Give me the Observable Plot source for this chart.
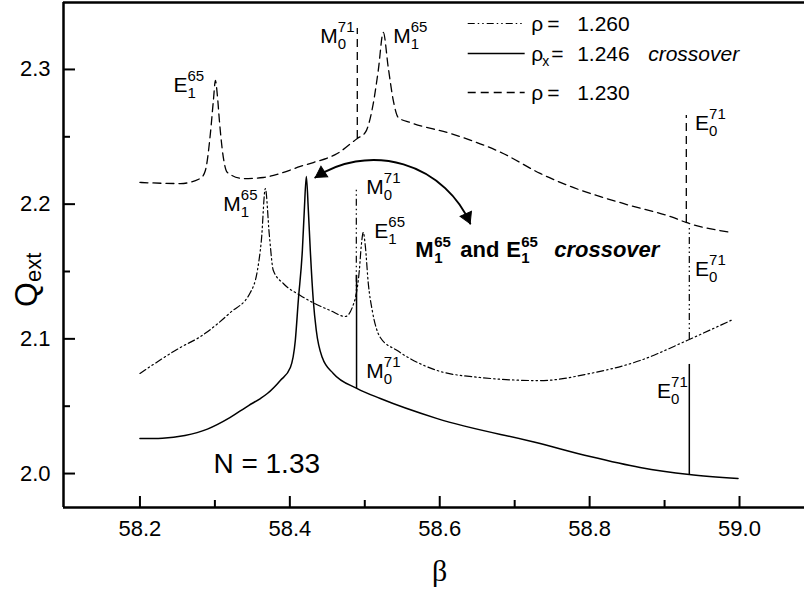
<!DOCTYPE html>
<html>
<head>
<meta charset="utf-8">
<script src="https://cdn.jsdelivr.net/npm/d3@7"></script>
<script src="https://cdn.jsdelivr.net/npm/@observablehq/plot@0.6"></script>
<style>
  html, body { margin: 0; padding: 0; background: #fff; }
  #chart svg { display: block; }
</style>
</head>
<body>
<div id="chart"></div>
<script>
// ---------- DATA ----------
// rho = 1.230 (dashed)
const betaDashed = [58.2, 58.254, 58.2807, 58.2873, 58.294, 58.298, 58.3007, 58.3033, 58.306, 58.31, 58.3167, 58.338, 58.3647, 58.3873, 58.414, 58.4313, 58.4633, 58.49, 58.5007, 58.5113, 58.518, 58.5247, 58.5313, 58.538, 58.5447, 58.5607, 58.614, 58.6847, 58.734, 58.778, 58.8447, 58.9113, 58.9287, 58.99];
const qDashed    = [2.2161, 2.2153, 2.2191, 2.225, 2.2525, 2.277, 2.2918, 2.2807, 2.2621, 2.2398, 2.2235, 2.219, 2.2198, 2.2228, 2.228, 2.2309, 2.2376, 2.2488, 2.2532, 2.2747, 2.2993, 2.3275, 2.3015, 2.277, 2.2643, 2.2606, 2.2525, 2.2376, 2.2228, 2.2124, 2.2005, 2.1901, 2.1864, 2.179];

// rho = 1.260 (dash-dot-dot)
const betaDashDot = [58.2, 58.254, 58.2807, 58.3207, 58.3473, 58.3567, 58.362, 58.3673, 58.3727, 58.378, 58.3913, 58.414, 58.454, 58.474, 58.4833, 58.4927, 58.4953, 58.498, 58.5007, 58.5047, 58.51, 58.5207, 58.5433, 58.574, 58.5967, 58.654, 58.734, 58.8007, 58.8673, 58.93, 58.9913];
const qDashDot    = [2.0743, 2.0936, 2.1017, 2.1196, 2.1344, 2.1507, 2.173, 2.2116, 2.1767, 2.1507, 2.1411, 2.1322, 2.121, 2.1166, 2.1233, 2.1507, 2.169, 2.179, 2.169, 2.141, 2.121, 2.101, 2.0913, 2.0815, 2.0765, 2.0713, 2.069, 2.0743, 2.0839, 2.0988, 2.1144];

// rho_x = 1.246 crossover (solid)
const betaSolid = [58.2, 58.23, 58.26, 58.29, 58.32, 58.345, 58.3607, 58.37, 58.3873, 58.4007, 58.4073, 58.4113, 58.4167, 58.4193, 58.422, 58.4247, 58.4273, 58.4313, 58.4353, 58.4433, 58.458, 58.49, 58.5207, 58.5967, 58.734, 58.8007, 58.8673, 58.933, 58.998];
const qSolid    = [2.026, 2.0263, 2.0283, 2.0330, 2.0415, 2.0505, 2.0557, 2.0594, 2.0691, 2.0787, 2.0988, 2.1285, 2.1656, 2.1953, 2.2205, 2.1953, 2.1656, 2.1285, 2.1062, 2.0861, 2.0743, 2.0631, 2.0557, 2.0408, 2.0223, 2.0126, 2.0045, 1.9993, 1.9963];

// narrow resonance spikes (M0^71 and E0^71)
const spikeBetaDashed = [58.49, 58.929];
const spikeBaseDashed = [2.2488, 2.1864];
const spikeTopDashed  = [2.3304, 2.2658];
const spikeBetaDashDot = [58.4887, 58.933];
const spikeBaseDashDot = [2.128, 2.0995];
const spikeTopDashDot  = [2.2116, 2.1827];
const spikeBetaSolid = [58.489, 58.933];
const spikeBaseSolid = [2.0631, 1.9993];
const spikeTopSolid  = [2.147, 2.081];

// resonance labels
const labelBeta = [58.2447, 58.3113, 58.4407, 58.538, 58.502, 58.5127, 58.502, 58.9407, 58.9407, 58.89];
const labelQ    = [2.2829, 2.1951, 2.3200, 2.3193, 2.2072, 2.1745, 2.0713, 2.2547, 2.1470, 2.0564];
const labelMain = ["E", "M", "M", "M", "M", "E", "M", "E", "E", "E"];
const labelSup  = ["65", "65", "71", "65", "71", "65", "71", "71", "71", "71"];
const labelSub  = ["1", "1", "0", "1", "0", "1", "0", "0", "0", "0"];

// legend
const legendValues = ["1.260", "1.246", "1.230"];
const legendQ = [2.3341, 2.3119, 2.2829];
const legendBeta1 = 58.638, legendBeta2 = 58.714, legendTextBeta = 58.722;

// crossover arrow (double headed): left tip, right tip
const arrowBeta = [58.434, 58.6407];
const arrowQ = [2.2198, 2.1856];

// annotations
const crossoverAnchor = {x: 58.5673, y: 2.1604};
const nLabel = {x: 58.298, y: 2.0007, text: "N = 1.33"};

// ticks
const xMajor = [58.2, 58.4, 58.6, 58.8, 59.0];
const xMinor = [58.3, 58.5, 58.7, 58.9];
const yMajor = [2.0, 2.1, 2.2, 2.3];
const yMinor = [2.05, 2.15, 2.25];

const xDomain = [58.098, 59.0867];
const yDomain = [1.9748, 2.3497];

// ---------- BUILD ----------
const W = 804, H = 594, mt = 2, ml = 63, mr = 0, mb = 87;
const frameW = W - ml - mr, frameH = H - mt - mb;
const font = "Liberation Sans, Arial, Helvetica, sans-serif";

const toRows = (bs, qs) => bs.map((b, i) => ({beta: b, q: qs[i]}));
const dashed = toRows(betaDashed, qDashed);
const dashdot = toRows(betaDashDot, qDashDot);
const solid = toRows(betaSolid, qSolid);
const spikes = (bs, b0, b1) => bs.map((b, i) => ({beta: b, base: b0[i], top: b1[i]}));
const spDashed = spikes(spikeBetaDashed, spikeBaseDashed, spikeTopDashed);
const spDashDot = spikes(spikeBetaDashDot, spikeBaseDashDot, spikeTopDashDot);
const spSolid = spikes(spikeBetaSolid, spikeBaseSolid, spikeTopSolid);

const labels = labelBeta.map((b, i) => ({x: b, y: labelQ[i], main: labelMain[i], sup: labelSup[i], sub: labelSub[i]}));
const labM = labels.filter(d => d.main === "M");
const labE = labels.filter(d => d.main === "E");

const legendRows = legendValues.map((v, i) => ({v, y: legendQ[i]}));
const legendPlain = [legendRows[0], legendRows[2]];

const DASH = "8,5";
const DASHDOT = "7,3,1.5,3,1.5,3";

const supSub = (data, dx) => [
  Plot.text(data, {x: "x", y: "y", text: "sup", dx, dy: -11, fontSize: 15, textAnchor: "start", lineAnchor: "bottom"}),
  Plot.text(data, {x: "x", y: "y", text: "sub", dx, dy: 6, fontSize: 15, textAnchor: "start", lineAnchor: "bottom"})
];

const cross = [crossoverAnchor];
const crossPieces = [
  {text: "M", dx: 0, dy: 0, fs: 22, st: "normal"},
  {text: "65", dx: 19, dy: -10, fs: 15, st: "normal"},
  {text: "1", dx: 19, dy: 6, fs: 15, st: "normal"},
  {text: "and", dx: 45, dy: 0, fs: 22, st: "normal"},
  {text: "E", dx: 91, dy: 0, fs: 22, st: "normal"},
  {text: "65", dx: 106, dy: -10, fs: 15, st: "normal"},
  {text: "1", dx: 106, dy: 6, fs: 15, st: "normal"},
  {text: "crossover", dx: 139, dy: 0, fs: 22, st: "italic"}
];

const chart = Plot.plot({
  width: W, height: H,
  marginTop: mt, marginLeft: ml, marginRight: mr, marginBottom: mb,
  style: {fontFamily: font, background: "white", color: "black", overflow: "visible"},
  x: {domain: xDomain, axis: null, label: null},
  y: {domain: yDomain, axis: null, label: null},
  marks: [
    // frame (left, top, bottom)
    Plot.ruleX([xDomain[0]], {strokeWidth: 2.5}),
    Plot.ruleY([yDomain[0], yDomain[1]], {strokeWidth: 2.5}),
    // inward ticks
    Plot.tickX(xMajor, {x: d => d, insetTop: frameH - 11, strokeWidth: 2}),
    Plot.tickX(xMinor, {x: d => d, insetTop: frameH - 7, strokeWidth: 2}),
    Plot.tickY(yMajor, {y: d => d, insetRight: frameW - 12, strokeWidth: 2}),
    Plot.tickY(yMinor, {y: d => d, insetRight: frameW - 7, strokeWidth: 2}),
    // tick labels
    Plot.axisX({ticks: xMajor, tickSize: 0, tickPadding: 13, tickFormat: d => d.toFixed(1), fontSize: 22, label: null}),
    Plot.axisY({ticks: yMajor, tickSize: 0, tickPadding: 13, tickFormat: d => d.toFixed(1), fontSize: 22, label: null}),
    // axis titles
    Plot.text(["Q"], {frameAnchor: "left", text: d => d, rotate: -90, dx: -27, dy: 52, fontSize: 32, textAnchor: "start", lineAnchor: "bottom"}),
    Plot.text(["ext"], {frameAnchor: "left", text: d => d, rotate: -90, dx: -23, dy: 27, fontSize: 22, textAnchor: "start", lineAnchor: "bottom"}),
    Plot.text(["β"], {x: [58.6], frameAnchor: "bottom", text: d => d, dy: 73, fontSize: 30, fontFamily: "Liberation Serif, Times New Roman, serif", lineAnchor: "bottom"}),
    // curves
    Plot.line(dashed, {x: "beta", y: "q", curve: "monotone-x", strokeWidth: 1.3, strokeDasharray: DASH}),
    Plot.line(dashdot, {x: "beta", y: "q", curve: "monotone-x", strokeWidth: 1.2, strokeDasharray: DASHDOT}),
    Plot.line(solid, {x: "beta", y: "q", curve: "monotone-x", strokeWidth: 1.5}),
    // spikes
    Plot.ruleX(spDashed, {x: "beta", y1: "base", y2: "top", strokeWidth: 1.3, strokeDasharray: DASH}),
    Plot.ruleX(spDashDot, {x: "beta", y1: "base", y2: "top", strokeWidth: 1.2, strokeDasharray: DASHDOT}),
    Plot.ruleX(spSolid, {x: "beta", y1: "base", y2: "top", strokeWidth: 1.5}),
    // resonance labels
    Plot.text(labels, {x: "x", y: "y", text: "main", fontSize: 21, textAnchor: "start", lineAnchor: "bottom"}),
    ...supSub(labM, 17.5),
    ...supSub(labE, 14),
    // crossover arrow: one arc, filled heads at both tips
    Plot.arrow([0], {x1: () => arrowBeta[0], y1: () => arrowQ[0], x2: () => arrowBeta[1], y2: () => arrowQ[1], bend: 50, headLength: 0, strokeWidth: 2}),
    Plot.dot([0], {x: () => arrowBeta[0], y: () => arrowQ[0], symbol: "triangle", r: 4.6, rotate: 237, dx: 6, dy: -4, fill: "black", stroke: "black", strokeWidth: 1}),
    Plot.dot([0], {x: () => arrowBeta[1], y: () => arrowQ[1], symbol: "triangle", r: 4.6, rotate: 156, dx: -3, dy: -6.5, fill: "black", stroke: "black", strokeWidth: 1}),
    // crossover text
    ...crossPieces.map(p => Plot.text(cross, {x: "x", y: "y", text: () => p.text, dx: p.dx, dy: p.dy, fontSize: p.fs, fontWeight: "bold", fontStyle: p.st, textAnchor: "start", lineAnchor: "bottom"})),
    // N label
    Plot.text([nLabel], {x: "x", y: "y", text: "text", fontSize: 28, textAnchor: "start", lineAnchor: "bottom"}),
    // legend lines
    Plot.ruleY([legendRows[0]], {y: "y", x1: legendBeta1, x2: legendBeta2, strokeWidth: 1.2, strokeDasharray: DASHDOT}),
    Plot.ruleY([legendRows[1]], {y: "y", x1: legendBeta1, x2: legendBeta2, strokeWidth: 1.5}),
    Plot.ruleY([legendRows[2]], {y: "y", x1: legendBeta1, x2: legendBeta2, strokeWidth: 1.3, strokeDasharray: DASH}),
    // legend text
    Plot.text(legendRows, {x: legendTextBeta, y: "y", text: () => "ρ", fontSize: 21, textAnchor: "start", lineAnchor: "middle", dy: 1}),
    Plot.text(legendPlain, {x: legendTextBeta, y: "y", text: () => "=", fontSize: 21, textAnchor: "start", lineAnchor: "middle", dx: 16, dy: 1}),
    Plot.text([legendRows[1]], {x: legendTextBeta, y: "y", text: () => "=", fontSize: 21, textAnchor: "start", lineAnchor: "middle", dx: 20, dy: 1}),
    Plot.text(legendRows, {x: legendTextBeta, y: "y", text: "v", fontSize: 21, textAnchor: "start", lineAnchor: "middle", dx: 46, dy: 1}),
    Plot.text([legendRows[1]], {x: legendTextBeta, y: "y", text: () => "x", fontSize: 14, textAnchor: "start", lineAnchor: "middle", dx: 11, dy: 8}),
    Plot.text([legendRows[1]], {x: legendTextBeta, y: "y", text: () => "crossover", fontSize: 21, fontStyle: "italic", textAnchor: "start", lineAnchor: "middle", dx: 117, dy: 1})
  ]
});

document.getElementById("chart").appendChild(chart);
</script>
</body>
</html>
